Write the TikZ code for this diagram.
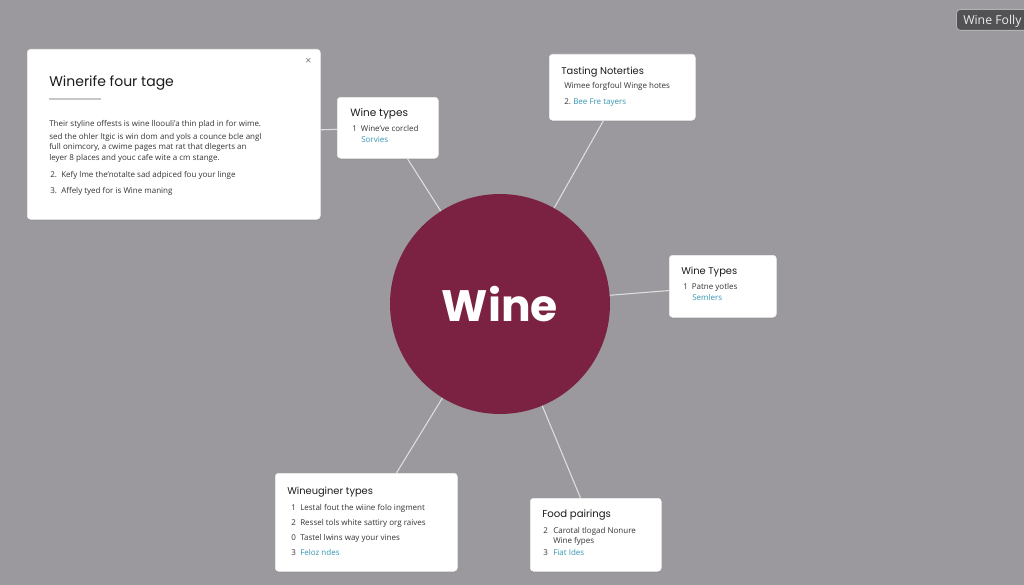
\documentclass[tikz,border=0pt]{standalone}
\usepackage{fontspec}
\setmainfont{Open Sans}
\newfontfamily\titlefont{Poppins}
\usetikzlibrary{shadows}
\definecolor{bggray}{RGB}{155,153,157}
\definecolor{winered}{RGB}{123,34,66}
\definecolor{titlec}{RGB}{28,28,30}
\definecolor{bodyc}{RGB}{52,52,54}
\definecolor{linkc}{RGB}{52,150,176}
\definecolor{connc}{RGB}{222,222,224}
\definecolor{follyfill}{RGB}{82,81,84}
\begin{document}
\begin{tikzpicture}[x=0.75pt,y=-0.75pt,
  card/.style={fill=white, draw=black!6, line width=0.4pt, rounded corners=2.5pt, anchor=north west, inner sep=0pt,
    drop shadow={opacity=0.2, shadow xshift=0pt, shadow yshift=-1.2pt}},
  ttl/.style={anchor=base west, inner sep=0pt, font=\titlefont\fontsize{7.4}{9}\selectfont, text=titlec},
  body/.style={anchor=base west, inner sep=0pt, font=\fontsize{6}{7}\selectfont, text=bodyc},
  lnk/.style={body, text=linkc},
  conn/.style={draw=connc, line width=0.8pt}]
\clip (0,0) rectangle (1024,585);
\fill[bggray] (0,0) rectangle (1024,585);

% central circle
\node[circle, fill=winered, minimum size=165pt, inner sep=0pt,
      font=\titlefont\bfseries\fontsize{33}{35}\selectfont, text=white] (wine) at (500,304) {Wine};

% cards
\node[card, minimum width=219.75pt, minimum height=127.5pt] (bigbox) at (27,49) {};
\node[card, minimum width=75.75pt, minimum height=45.75pt] (types1) at (337,97) {};
\node[card, minimum width=109.5pt, minimum height=49.5pt] (tasting) at (549,54) {};
\node[card, minimum width=80.25pt, minimum height=46.5pt] (types2) at (669,255) {};
\node[card, minimum width=136.5pt, minimum height=73.5pt] (winegin) at (275,473) {};
\node[card, minimum width=98.25pt, minimum height=54.75pt] (food) at (530,498) {};

% connectors
\draw[conn] (bigbox) -- (types1);
\draw[conn] (wine) -- (types1);
\draw[conn] (wine) -- (tasting);
\draw[conn] (wine) -- (types2);
\draw[conn] (wine) -- (winegin);
\draw[conn] (wine) -- (food);

% big box content
\node[anchor=base west, inner sep=0pt, font=\titlefont\fontsize{10.5}{12}\selectfont, text=titlec] (bigtitle) at (49,86.5) {Winerife four tage};
\draw[draw=black!22, line width=0.8pt] (49,99) coordinate (rulea) -- (101,99) coordinate (ruleb);
\node[anchor=center, inner sep=0pt, font=\fontsize{8}{9}\selectfont, text=black!55] (closex) at (308.5,61) {×};
\node[body] (bl1) at (49,126.5) {Their styline offests is wine lloouli'a thin plad in for wime.};
\node[body] (bl2) at (49,139) {sed the ohler ltgic is win dom and yols a counce bcle angl};
\node[body] (bl3) at (49,149.5) {full onimcory, a cwime pages mat rat that dlegerts an};
\node[body] (bl4) at (49,160.5) {leyer 8 places and youc cafe wite a cm stange.};
\node[body] (bn2) at (50,177) {2.};
\node[body] (bt2) at (61,177) {Kefy lme the'notalte sad adpiced fou your linge};
\node[body] (bn3) at (50,193) {3.};
\node[body] (bt3) at (61,193) {Affely tyed for is Wine maning};

% Wine types (upper)
\node[ttl, font=\titlefont\fontsize{7.9}{9}\selectfont] (t1title) at (350,116) {Wine types};
\node[body] (t1l1) at (352,131.5) {1\hspace{3pt}Wine've corcled};
\node[lnk] (t1l2) at (361,142.5) {Sorvies};

% Tasting Noterties
\node[ttl] (tatitle) at (561,74.5) {Tasting Noterties};
\node[body] (tal1) at (564,89) {Wimee forgfoul Winge hotes};
\node[body] (tan2) at (564,104) {2.};
\node[lnk] (tal2) at (573,104) {Bee Fre tayers};

% Wine Types (right)
\node[ttl] (t2title) at (681,274) {Wine Types};
\node[body] (t2l1) at (683,289.5) {1\hspace{3pt}Patne yotles};
\node[lnk] (t2l2) at (692,300.5) {Semlers};

% Wineuginer types
\node[ttl] (wgtitle) at (287,494.5) {Wineuginer types};
\node[body] (wgn1) at (291,510) {1};
\node[body] (wgl1) at (300,510) {Lestal fout the wiine folo ingment};
\node[body] (wgn2) at (291,525.5) {2};
\node[body] (wgl2) at (300,525.5) {Ressel tols white sattiry org raives};
\node[body] (wgn3) at (291,540.5) {0};
\node[body] (wgl3) at (300,540.5) {Tastel lwins way your vines};
\node[body] (wgn4) at (291,555.5) {3};
\node[lnk] (wgl4) at (300,555.5) {Feloz ndes};

% Food pairings
\node[ttl, font=\titlefont\fontsize{7.6}{9}\selectfont] (fptitle) at (542,517) {Food pairings};
\node[body] (fpn2) at (543,533) {2};
\node[body] (fpl1) at (553,533) {Carotal tlogad Nonure};
\node[body] (fpl2) at (553,543) {Wine fypes};
\node[body] (fpn3) at (543,555.5) {3};
\node[lnk] (fpl3) at (553,555.5) {Fiat Ides};

% Wine Folly tag
\node[anchor=north west, fill=follyfill, draw=black!30, line width=0.6pt, rounded corners=3pt,
      minimum width=60pt, minimum height=15.75pt, inner sep=0pt] (folly) at (956,9) {};
\node[anchor=base west, inner sep=0pt, font=\fontsize{9.2}{10}\selectfont, text=white!92!black] (follytext) at (963,24.5) {Wine Folly};
\end{tikzpicture}
\end{document}
